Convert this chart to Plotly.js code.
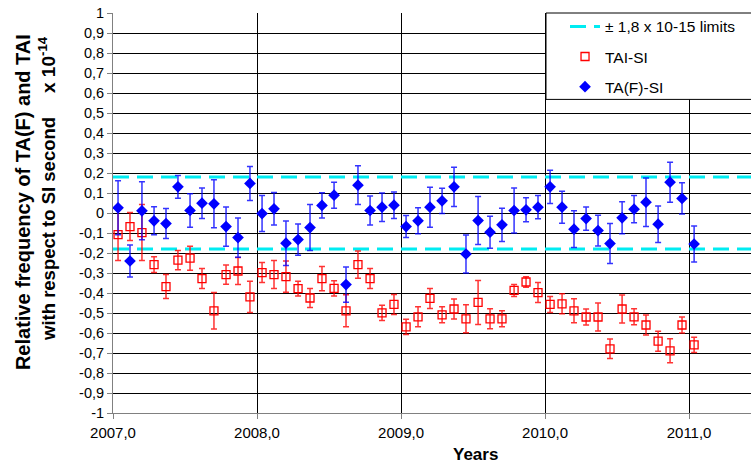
<!DOCTYPE html>
<html>
<head>
<meta charset="utf-8">
<script src="https://cdn.plot.ly/plotly-3.0.1.min.js"></script>
<style>html,body{margin:0;padding:0;background:#fff;}#chart{width:751px;height:463px;}</style>
</head>
<body>
<div id="chart"></div>
<script>
// Monthly epochs (decimal years)
const epochs = [
  2007.035, 2007.118, 2007.201, 2007.285, 2007.368, 2007.451, 2007.535, 2007.618, 2007.701, 2007.785, 2007.868, 2007.951,
  2008.035, 2008.118, 2008.201, 2008.285, 2008.368, 2008.451, 2008.535, 2008.618, 2008.701, 2008.785, 2008.868, 2008.951,
  2009.035, 2009.118, 2009.201, 2009.285, 2009.368, 2009.451, 2009.535, 2009.618, 2009.701, 2009.785, 2009.868, 2009.951,
  2010.035, 2010.118, 2010.201, 2010.285, 2010.368, 2010.451, 2010.535, 2010.618, 2010.701, 2010.785, 2010.868, 2010.951,
  2011.035
];
// TAI-SI (x 1e-14)
const taiSI = [
  -0.108, -0.068, -0.098, -0.258, -0.368, -0.236, -0.226, -0.328, -0.489, -0.308, -0.290, -0.419,
  -0.298, -0.308, -0.318, -0.378, -0.425, -0.328, -0.377, -0.489, -0.258, -0.328, -0.499, -0.457,
  -0.569, -0.519, -0.427, -0.509, -0.480, -0.529, -0.447, -0.529, -0.529, -0.387, -0.345, -0.398,
  -0.457, -0.454, -0.489, -0.520, -0.520, -0.679, -0.480, -0.519, -0.560, -0.641, -0.689, -0.560,
  -0.659
];
const taiErr = [
  0.130, 0.070, 0.140, 0.039, 0.060, 0.048, 0.060, 0.050, 0.091, 0.048, 0.068, 0.078,
  0.050, 0.070, 0.078, 0.037, 0.048, 0.061, 0.038, 0.080, 0.068, 0.050, 0.038, 0.050,
  0.038, 0.050, 0.050, 0.040, 0.050, 0.070, 0.110, 0.050, 0.040, 0.030, 0.026, 0.050,
  0.040, 0.050, 0.060, 0.040, 0.070, 0.049, 0.070, 0.040, 0.050, 0.050, 0.060, 0.040,
  0.038
];
// TA(F)-SI (x 1e-14)
const tafSI = [
  0.026, -0.240, 0.011, -0.039, -0.053, 0.131, 0.0125, 0.049, 0.046, -0.068, -0.123, 0.148,
  -0.003, 0.021, -0.151, -0.133, -0.073, 0.038, 0.089, -0.358, 0.139, 0.0125, 0.029, 0.039,
  -0.068, -0.039, 0.029, 0.061, 0.131, -0.205, -0.038, -0.096, -0.059, 0.0125, 0.016, 0.029,
  0.131, 0.029, -0.081, -0.028, -0.088, -0.153, -0.024, 0.019, 0.054, -0.056, 0.154, 0.073,
  -0.155
];
const tafErr = [
  0.135, 0.080, 0.145, 0.070, 0.075, 0.057, 0.084, 0.076, 0.120, 0.098, 0.098, 0.085,
  0.090, 0.081, 0.111, 0.078, 0.115, 0.063, 0.065, 0.088, 0.097, 0.072, 0.071, 0.066,
  0.055, 0.065, 0.100, 0.063, 0.098, 0.095, 0.120, 0.080, 0.083, 0.113, 0.060, 0.058,
  0.083, 0.080, 0.092, 0.058, 0.077, 0.100, 0.080, 0.068, 0.121, 0.091, 0.100, 0.078,
  0.090
];
const limit = 0.18;
const xRange = [2007, 2011.43];
const xTickVals = [2007, 2008, 2009, 2010, 2011];
const xTickText = ['2007,0', '2008,0', '2009,0', '2010,0', '2011,0'];
const yTickVals = [1, 0.9, 0.8, 0.7, 0.6, 0.5, 0.4, 0.3, 0.2, 0.1, 0, -0.1, -0.2, -0.3, -0.4, -0.5, -0.6, -0.7, -0.8, -0.9, -1];
const yTickText = ['1', '0,9', '0,8', '0,7', '0,6', '0,5', '0,4', '0,3', '0,2', '0,1', '0', '-0,1', '-0,2', '-0,3', '-0,4', '-0,5', '-0,6', '-0,7', '-0,8', '-0,9', '-1'];

const FONT = 'Liberation Sans, Arial, sans-serif';

const traces = [
  {
    name: '± 1,8 x 10-15 limits',
    legendgroup: 'g1',
    x: [xRange[0], xRange[1], null, xRange[0], xRange[1]],
    y: [limit, limit, null, -limit, -limit],
    mode: 'lines',
    line: {color: '#00ecf2', width: 3, dash: '16px,8px'},
    hoverinfo: 'skip'
  },
  {
    name: 'TAI-SI',
    legendgroup: 'g2',
    x: epochs,
    y: taiSI,
    mode: 'markers',
    marker: {symbol: 'square-open', size: 8, color: '#ff0000', line: {width: 1.3, color: '#ff0000'}},
    error_y: {type: 'data', array: taiErr, visible: true, color: 'rgba(255,0,0,0.8)', thickness: 1.5, width: 3}
  },
  {
    name: 'TA(F)-SI',
    legendgroup: 'g3',
    x: epochs,
    y: tafSI,
    mode: 'markers',
    marker: {symbol: 'diamond', size: 9, color: '#0000ff'},
    error_y: {type: 'data', array: tafErr, visible: true, color: 'rgba(0,0,255,0.8)', thickness: 1.5, width: 3}
  }
];

const layout = {
  width: 751, height: 463,
  margin: {l: 113, r: 0, t: 13, b: 50},
  paper_bgcolor: '#ffffff', plot_bgcolor: '#ffffff',
  font: {family: FONT, color: '#000', size: 15},
  showlegend: true,
  legend: {
    x: 0.7085, y: 1.008, xanchor: 'left', yanchor: 'top',
    bgcolor: 'rgba(0,0,0,0)', borderwidth: 0,
    font: {family: FONT, size: 15.5, color: '#000'},
    tracegroupgap: 7, traceorder: 'grouped'
  },
  xaxis: {
    range: xRange, tickvals: xTickVals, ticktext: xTickText,
    showgrid: true, gridcolor: '#000', gridwidth: 1,
    showline: true, linecolor: '#808080', linewidth: 1,
    ticks: 'outside', ticklen: 5, tickcolor: '#808080',
    tickfont: {family: FONT, size: 15, color: '#000'},
    ticklabelstandoff: 1,
    zeroline: false
  },
  yaxis: {
    range: [-1, 1], tickvals: yTickVals, ticktext: yTickText,
    showgrid: true, gridcolor: '#000', gridwidth: 1,
    showline: true, linecolor: '#808080', linewidth: 1,
    ticks: 'outside', ticklen: 5, tickcolor: '#808080',
    tickfont: {family: FONT, size: 14.5, color: '#000'},
    zeroline: false
  },
  shapes: [
    {type: 'rect', xref: 'paper', yref: 'paper', x0: 0.6787, x1: 1.2, y0: 0.784, y1: 1.0,
     fillcolor: '#ffffff', line: {color: '#000', width: 1}, layer: 'above'}
  ],
  annotations: [
    {text: '<b>Relative frequency of TA(F) and TAI</b>', xref: 'paper', yref: 'paper', x: 0, y: 0.526,
     xshift: -90.5, xanchor: 'center', yanchor: 'middle', textangle: -90, showarrow: false,
     font: {family: FONT, size: 20, color: '#000'}},
    {text: '<b>with respect to SI second</b>', xref: 'paper', yref: 'paper', x: 0, y: 0.46,
     xshift: -65, xanchor: 'center', yanchor: 'middle', textangle: -90, showarrow: false,
     font: {family: FONT, size: 18.5, color: '#000'}},
    {text: '<b>x 10<sup>-14</sup></b>', xref: 'paper', yref: 'paper', x: 0, y: 0.87,
     xshift: -66, xanchor: 'center', yanchor: 'middle', textangle: -90, showarrow: false,
     font: {family: FONT, size: 19, color: '#000'}},
    {text: '<b>Years</b>', xref: 'paper', yref: 'paper', x: 0.5685, y: -0.1025,
     xanchor: 'center', yanchor: 'middle', showarrow: false,
     font: {family: FONT, size: 17, color: '#000'}}
  ]
};

Plotly.newPlot('chart', traces, layout, {staticPlot: true, displayModeBar: false});
</script>
</body>
</html>
